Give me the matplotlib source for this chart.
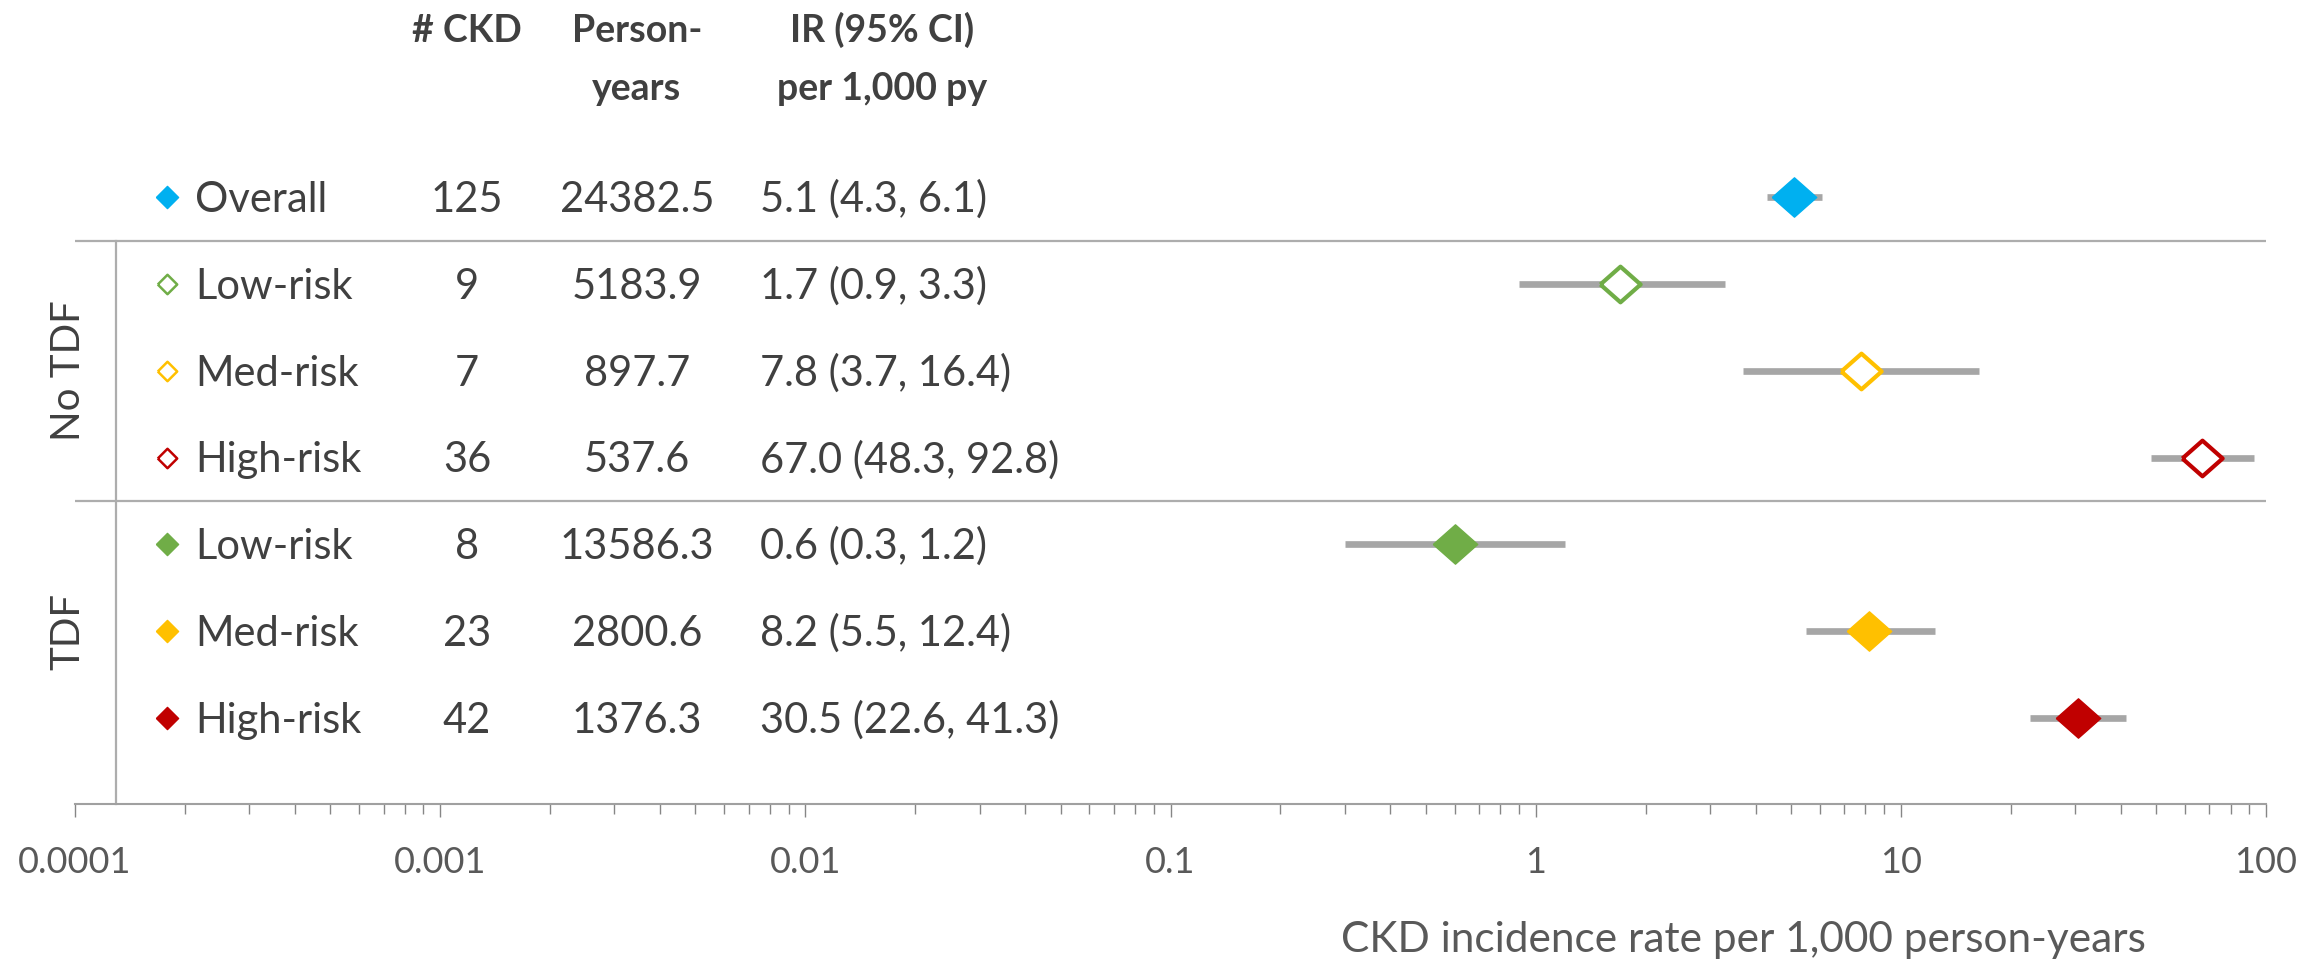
import numpy as np
import matplotlib
matplotlib.use('Agg')
from matplotlib import pyplot as plt
from matplotlib import transforms

plt.rcParams['font.family'] = ['Lato', 'DejaVu Sans']

# rows: overall, then No TDF (open markers), then TDF (filled markers)
row_labels = ['Overall', 'Low-risk', 'Med-risk', 'High-risk', 'Low-risk', 'Med-risk', 'High-risk']
n_ckd = [125, 9, 7, 36, 8, 23, 42]
person_years = [24382.5, 5183.9, 897.7, 537.6, 13586.3, 2800.6, 1376.3]
ir = [5.1, 1.7, 7.8, 67.0, 0.6, 8.2, 30.5]
ci_low = [4.3, 0.9, 3.7, 48.3, 0.3, 5.5, 22.6]
ci_high = [6.1, 3.3, 16.4, 92.8, 1.2, 12.4, 41.3]
row_colors = ['#00B0F0', '#70AD47', '#FFC000', '#C00000', '#70AD47', '#FFC000', '#C00000']
row_filled = [True, False, False, False, True, True, True]
groups = ['No TDF', 'TDF']
tick_values = [0.0001, 0.001, 0.01, 0.1, 1, 10, 100]
tick_labels = ['0.0001', '0.001', '0.01', '0.1', '1', '10', '100']

W, H = 2320, 963
fig = plt.figure(figsize=(W / 100, H / 100), dpi=100)
ax = fig.add_axes([75 / W, (H - 804) / H, (2266 - 75) / W, 804 / H])

rows = np.arange(len(row_labels))
ax.set_xscale('log')
ax.set_xlim(0.0001, 100)
ax.set_ylim(6.99, -2.27)

text_col = '#404040'
grey = '#A6A6A6'

# wide diamond used in the plot, square one for the row labels
wide_diamond = [(-1.13, 0), (0, 1), (1.13, 0), (0, -1), (-1.13, 0)]
sq_diamond = [(-1, 0), (0, 1), (1, 0), (0, -1), (-1, 0)]

# confidence intervals
ax.hlines(rows, ci_low, ci_high, color=grey, lw=4.8, capstyle='butt', zorder=2)

# point estimates
for r, x, c, f in zip(rows, ir, row_colors, row_filled):
    if f:
        ax.plot(x, r, marker=wide_diamond, ms=32, color=c, mec=c, mew=1, ls='none', zorder=3)
    else:
        ax.plot(x, r, marker=wide_diamond, ms=29, mfc='white', mec=c, mew=3, ls='none', zorder=3)

# separators
for yy in [0.5, 3.5]:
    ax.axhline(yy, color='#ADADAD', lw=1.6, zorder=1)
blend = transforms.blended_transform_factory(fig.transFigure, ax.transData)
ax.plot([116 / W, 116 / W], [0.5, 6.99], transform=blend, color='#ADADAD', lw=1.6, clip_on=False)

# table columns
fs = 30
base = 0.17
for r, lab, n, py, c, f in zip(rows, row_labels, n_ckd, person_years, row_colors, row_filled):
    ax.plot(167 / W, r, transform=blend, marker=sq_diamond, ms=16 if f else 14,
            mfc=c if f else 'white', mec=c, mew=1 if f else 1.8, ls='none', clip_on=False)
    ax.text(195 / W, r + base, lab, transform=blend, fontsize=fs, color=text_col, va='baseline', ha='left')
    ax.text(467 / W, r + base, str(n), transform=blend, fontsize=fs, color=text_col, va='baseline', ha='center')
    ax.text(637 / W, r + base, f'{py:.1f}', transform=blend, fontsize=fs, color=text_col, va='baseline', ha='center')
for r, x, lo, hi in zip(rows, ir, ci_low, ci_high):
    ax.text(760 / W, r + base, f'{x:.1f} ({lo:.1f}, {hi:.1f})', transform=blend, fontsize=fs,
            color=text_col, va='baseline', ha='left')

# headers
hfs = 27
ax.text(467 / W, -1.79, '# CKD', transform=blend, fontsize=hfs, weight='bold', color=text_col, va='baseline', ha='center')
ax.text(637 / W, -1.79, 'Person-', transform=blend, fontsize=hfs, weight='bold', color=text_col, va='baseline', ha='center')
ax.text(637 / W, -1.12, 'years', transform=blend, fontsize=hfs, weight='bold', color=text_col, va='baseline', ha='center')
ax.text(882 / W, -1.79, 'IR (95% CI)', transform=blend, fontsize=hfs, weight='bold', color=text_col, va='baseline', ha='center')
ax.text(882 / W, -1.12, 'per 1,000 py', transform=blend, fontsize=hfs, weight='bold', color=text_col, va='baseline', ha='center')

# group labels
ax.text(68 / W, 2, groups[0], transform=blend, fontsize=29, color=text_col, rotation=90, va='center', ha='center')
ax.text(68 / W, 5, groups[1], transform=blend, fontsize=29, color=text_col, rotation=90, va='center', ha='center')

# x axis
for s in ['top', 'right', 'left']:
    ax.spines[s].set_visible(False)
ax.spines['bottom'].set_color('#A0A0A0')
ax.spines['bottom'].set_linewidth(1.5)
ax.set_yticks([])
ax.set_xticks(tick_values, labels=tick_labels)
ax.tick_params(axis='x', which='major', direction='out', length=9.5, width=1, color='#868686',
               labelsize=26, labelcolor='#595959', pad=21)
ax.tick_params(axis='x', which='minor', direction='out', length=7, width=1, color='#868686')
ax.xaxis.set_minor_locator(matplotlib.ticker.LogLocator(base=10, subs=np.arange(2, 10)))
ax.xaxis.set_minor_formatter(matplotlib.ticker.NullFormatter())

fig.text(2146 / W, (H - 952) / H, 'CKD incidence rate per 1,000 person-years', fontsize=30.5,
         color='#595959', ha='right', va='baseline')

fig.savefig('out.png', dpi=100)
